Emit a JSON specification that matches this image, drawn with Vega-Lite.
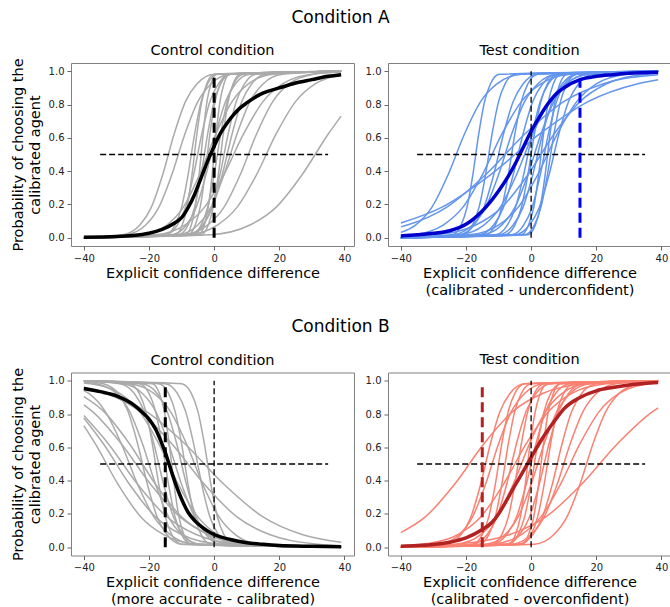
{
"$schema":"https://vega.github.io/schema/vega-lite/v6.json",
"autosize":{"type":"pad"},
"padding":{"left":9,"top":8,"right":0,"bottom":0},
"background":"white",
"config":{"font":"DejaVu Sans","view":{"stroke":"#808080","strokeWidth":1},
"axis":{"grid":false,"domain":false,"tickColor":"#666666","tickSize":4,"labelFontSize":10,"labelColor":"#222222","labelPadding":3,"titleFontSize":14.5,"titleFontWeight":400,"titleColor":"black","titleLineHeight":17,"labelFont":"DejaVu Sans","titleFont":"DejaVu Sans"},
"axisX":{"titlePadding":3,"titleFontWeight":400},"axisY":{"titlePadding":6,"titleFontWeight":400},
"title":{"fontSize":14.5,"fontWeight":400,"font":"DejaVu Sans","anchor":"middle","color":"black","offset":3,"frame":"group"},
"concat":{"spacing":9}},
"datasets":{
"a1":[
{"c":1,"x":-40,"y":0},{"c":1,"x":-28,"y":0.018},{"c":1,"x":-22.8,"y":0.076},{"c":1,"x":-19.3,"y":0.182},{"c":1,"x":-15.8,"y":0.378},{"c":1,"x":-12.3,"y":0.622},{"c":1,"x":-8.8,"y":0.818},{"c":1,"x":-5.3,"y":0.924},{"c":1,"x":0,"y":0.982},{"c":1,"x":39,"y":1},
{"c":2,"x":-40,"y":0},{"c":2,"x":-27,"y":0.018},{"c":2,"x":-21,"y":0.076},{"c":2,"x":-17,"y":0.182},{"c":2,"x":-13,"y":0.378},{"c":2,"x":-9,"y":0.622},{"c":2,"x":-5,"y":0.818},{"c":2,"x":-1,"y":0.924},{"c":2,"x":5,"y":0.982},{"c":2,"x":39,"y":1},
{"c":3,"x":-40,"y":0},{"c":3,"x":-15,"y":0.018},{"c":3,"x":-12,"y":0.076},{"c":3,"x":-10,"y":0.182},{"c":3,"x":-8,"y":0.378},{"c":3,"x":-6,"y":0.622},{"c":3,"x":-4,"y":0.818},{"c":3,"x":-2,"y":0.924},{"c":3,"x":1,"y":0.982},{"c":3,"x":39,"y":1},
{"c":4,"x":-40,"y":0},{"c":4,"x":-12,"y":0.018},{"c":4,"x":-9.8,"y":0.076},{"c":4,"x":-8.3,"y":0.182},{"c":4,"x":-6.8,"y":0.378},{"c":4,"x":-5.3,"y":0.622},{"c":4,"x":-3.8,"y":0.818},{"c":4,"x":-2.3,"y":0.924},{"c":4,"x":0,"y":0.982},{"c":4,"x":39,"y":1},
{"c":5,"x":-40,"y":0},{"c":5,"x":-15,"y":0.018},{"c":5,"x":-11.3,"y":0.076},{"c":5,"x":-8.8,"y":0.182},{"c":5,"x":-6.3,"y":0.378},{"c":5,"x":-3.8,"y":0.622},{"c":5,"x":-1.3,"y":0.818},{"c":5,"x":1.3,"y":0.924},{"c":5,"x":5,"y":0.982},{"c":5,"x":39,"y":1},
{"c":6,"x":-40,"y":0},{"c":6,"x":-8.8,"y":0.018},{"c":6,"x":-7,"y":0.076},{"c":6,"x":-5.8,"y":0.182},{"c":6,"x":-4.6,"y":0.378},{"c":6,"x":-3.4,"y":0.622},{"c":6,"x":-2.2,"y":0.818},{"c":6,"x":-1,"y":0.924},{"c":6,"x":0.8,"y":0.982},{"c":6,"x":39,"y":1},
{"c":7,"x":-40,"y":0},{"c":7,"x":-11,"y":0.018},{"c":7,"x":-8,"y":0.076},{"c":7,"x":-6,"y":0.182},{"c":7,"x":-4,"y":0.378},{"c":7,"x":-2,"y":0.622},{"c":7,"x":0,"y":0.818},{"c":7,"x":2,"y":0.924},{"c":7,"x":5,"y":0.982},{"c":7,"x":39,"y":1},
{"c":8,"x":-40,"y":0},{"c":8,"x":-8,"y":0.018},{"c":8,"x":-5.8,"y":0.076},{"c":8,"x":-4.3,"y":0.182},{"c":8,"x":-2.8,"y":0.378},{"c":8,"x":-1.3,"y":0.622},{"c":8,"x":0.3,"y":0.818},{"c":8,"x":1.8,"y":0.924},{"c":8,"x":4,"y":0.982},{"c":8,"x":39,"y":1},
{"c":9,"x":-40,"y":0},{"c":9,"x":-13,"y":0.018},{"c":9,"x":-8.5,"y":0.076},{"c":9,"x":-5.5,"y":0.182},{"c":9,"x":-2.5,"y":0.378},{"c":9,"x":0.5,"y":0.622},{"c":9,"x":3.5,"y":0.818},{"c":9,"x":6.5,"y":0.924},{"c":9,"x":11,"y":0.982},{"c":9,"x":39,"y":1},
{"c":10,"x":-40,"y":0},{"c":10,"x":-4.8,"y":0.018},{"c":10,"x":-3,"y":0.076},{"c":10,"x":-1.8,"y":0.182},{"c":10,"x":-0.6,"y":0.378},{"c":10,"x":0.6,"y":0.622},{"c":10,"x":1.8,"y":0.818},{"c":10,"x":3,"y":0.924},{"c":10,"x":4.8,"y":0.982},{"c":10,"x":39,"y":1},
{"c":11,"x":-40,"y":0},{"c":11,"x":-7,"y":0.018},{"c":11,"x":-4,"y":0.076},{"c":11,"x":-2,"y":0.182},{"c":11,"x":0,"y":0.378},{"c":11,"x":2,"y":0.622},{"c":11,"x":4,"y":0.818},{"c":11,"x":6,"y":0.924},{"c":11,"x":9,"y":0.982},{"c":11,"x":39,"y":1},
{"c":12,"x":-40,"y":0},{"c":12,"x":-4,"y":0.018},{"c":12,"x":-1.8,"y":0.076},{"c":12,"x":-0.3,"y":0.182},{"c":12,"x":1.3,"y":0.378},{"c":12,"x":2.8,"y":0.622},{"c":12,"x":4.3,"y":0.818},{"c":12,"x":5.8,"y":0.924},{"c":12,"x":8,"y":0.982},{"c":12,"x":39,"y":1},
{"c":13,"x":-40,"y":0},{"c":13,"x":-7,"y":0.018},{"c":13,"x":-3.3,"y":0.076},{"c":13,"x":-0.8,"y":0.182},{"c":13,"x":1.8,"y":0.378},{"c":13,"x":4.3,"y":0.622},{"c":13,"x":6.8,"y":0.818},{"c":13,"x":9.3,"y":0.924},{"c":13,"x":13,"y":0.982},{"c":13,"x":39,"y":1},
{"c":14,"x":-40,"y":0},{"c":14,"x":-8,"y":0.018},{"c":14,"x":-3.5,"y":0.076},{"c":14,"x":-0.5,"y":0.182},{"c":14,"x":2.5,"y":0.378},{"c":14,"x":5.5,"y":0.622},{"c":14,"x":8.5,"y":0.818},{"c":14,"x":11.5,"y":0.924},{"c":14,"x":16,"y":0.982},{"c":14,"x":39,"y":1},
{"c":15,"x":-40,"y":0},{"c":15,"x":-11,"y":0.018},{"c":15,"x":-5,"y":0.076},{"c":15,"x":-1,"y":0.182},{"c":15,"x":3,"y":0.378},{"c":15,"x":7,"y":0.622},{"c":15,"x":11,"y":0.818},{"c":15,"x":15,"y":0.924},{"c":15,"x":21,"y":0.982},{"c":15,"x":39,"y":1},
{"c":16,"x":-40,"y":0},{"c":16,"x":-9.5,"y":0.018},{"c":16,"x":-2,"y":0.076},{"c":16,"x":3,"y":0.182},{"c":16,"x":8,"y":0.378},{"c":16,"x":13,"y":0.622},{"c":16,"x":18,"y":0.818},{"c":16,"x":23,"y":0.924},{"c":16,"x":30.5,"y":0.982},{"c":16,"x":39,"y":0.997},
{"c":17,"x":-40,"y":0},{"c":17,"x":-8,"y":0.018},{"c":17,"x":1,"y":0.076},{"c":17,"x":7,"y":0.182},{"c":17,"x":13,"y":0.378},{"c":17,"x":19,"y":0.622},{"c":17,"x":25,"y":0.818},{"c":17,"x":31,"y":0.924},{"c":17,"x":39,"y":0.979},
{"c":18,"x":-40,"y":0},{"c":18,"x":-1,"y":0.018},{"c":18,"x":11,"y":0.076},{"c":18,"x":19,"y":0.182},{"c":18,"x":27,"y":0.378},{"c":18,"x":35,"y":0.622},{"c":18,"x":39,"y":0.731},
{"c":19,"x":-40,"y":0},{"c":19,"x":-22,"y":0.018},{"c":19,"x":-14.5,"y":0.076},{"c":19,"x":-9.5,"y":0.182},{"c":19,"x":-4.5,"y":0.378},{"c":19,"x":0.5,"y":0.622},{"c":19,"x":5.5,"y":0.818},{"c":19,"x":10.5,"y":0.924},{"c":19,"x":18,"y":0.982},{"c":19,"x":39,"y":1},
{"c":20,"x":-40,"y":0},{"c":20,"x":-18,"y":0.018},{"c":20,"x":-9,"y":0.076},{"c":20,"x":-3,"y":0.182},{"c":20,"x":3,"y":0.378},{"c":20,"x":9,"y":0.622},{"c":20,"x":15,"y":0.818},{"c":20,"x":21,"y":0.924},{"c":20,"x":30,"y":0.982},{"c":20,"x":39,"y":0.996}
],
"a1m":[{"x":-40,"y":0.003},{"x":-30,"y":0.007},{"x":-25,"y":0.013},{"x":-20,"y":0.027},{"x":-16,"y":0.05},{"x":-12,"y":0.09},{"x":-10,"y":0.12},{"x":-8,"y":0.18},{"x":-6,"y":0.26},{"x":-4,"y":0.36},{"x":-2,"y":0.46},{"x":0,"y":0.55},{"x":2,"y":0.63},{"x":4,"y":0.69},{"x":6,"y":0.74},{"x":8,"y":0.78},{"x":10,"y":0.81},{"x":14,"y":0.86},{"x":20,"y":0.9},{"x":25,"y":0.93},{"x":30,"y":0.95},{"x":35,"y":0.97},{"x":39,"y":0.98}],
"a2":[
{"c":1,"x":-40,"y":0.032},{"c":1,"x":-35.5,"y":0.076},{"c":1,"x":-30.5,"y":0.182},{"c":1,"x":-25.5,"y":0.378},{"c":1,"x":-20.5,"y":0.622},{"c":1,"x":-15.5,"y":0.818},{"c":1,"x":-10.5,"y":0.924},{"c":1,"x":-3,"y":0.982},{"c":1,"x":39,"y":1},
{"c":2,"x":-40,"y":0},{"c":2,"x":-24.2,"y":0.018},{"c":2,"x":-21.5,"y":0.076},{"c":2,"x":-19.7,"y":0.182},{"c":2,"x":-17.9,"y":0.378},{"c":2,"x":-16.1,"y":0.622},{"c":2,"x":-14.3,"y":0.818},{"c":2,"x":-12.5,"y":0.924},{"c":2,"x":-9.8,"y":0.982},{"c":2,"x":39,"y":1},
{"c":3,"x":-40,"y":0},{"c":3,"x":-21,"y":0.018},{"c":3,"x":-18,"y":0.076},{"c":3,"x":-16,"y":0.182},{"c":3,"x":-14,"y":0.378},{"c":3,"x":-12,"y":0.622},{"c":3,"x":-10,"y":0.818},{"c":3,"x":-8,"y":0.924},{"c":3,"x":-5,"y":0.982},{"c":3,"x":39,"y":1},
{"c":4,"x":-40,"y":0},{"c":4,"x":-22,"y":0.018},{"c":4,"x":-17.5,"y":0.076},{"c":4,"x":-14.5,"y":0.182},{"c":4,"x":-11.5,"y":0.378},{"c":4,"x":-8.5,"y":0.622},{"c":4,"x":-5.5,"y":0.818},{"c":4,"x":-2.5,"y":0.924},{"c":4,"x":2,"y":0.982},{"c":4,"x":39,"y":1},
{"c":5,"x":-40,"y":0.065},{"c":5,"x":-38,"y":0.076},{"c":5,"x":-26,"y":0.182},{"c":5,"x":-14,"y":0.378},{"c":5,"x":-2,"y":0.622},{"c":5,"x":10,"y":0.818},{"c":5,"x":22,"y":0.924},{"c":5,"x":39,"y":0.98},
{"c":6,"x":-40,"y":0.088},{"c":6,"x":-27.5,"y":0.182},{"c":6,"x":-12.5,"y":0.378},{"c":6,"x":2.5,"y":0.622},{"c":6,"x":17.5,"y":0.818},{"c":6,"x":32.5,"y":0.924},{"c":6,"x":39,"y":0.949},
{"c":7,"x":-40,"y":0},{"c":7,"x":-24,"y":0.018},{"c":7,"x":-18,"y":0.076},{"c":7,"x":-14,"y":0.182},{"c":7,"x":-10,"y":0.378},{"c":7,"x":-6,"y":0.622},{"c":7,"x":-2,"y":0.818},{"c":7,"x":2,"y":0.924},{"c":7,"x":8,"y":0.982},{"c":7,"x":39,"y":1},
{"c":8,"x":-40,"y":0},{"c":8,"x":-14,"y":0.018},{"c":8,"x":-11,"y":0.076},{"c":8,"x":-9,"y":0.182},{"c":8,"x":-7,"y":0.378},{"c":8,"x":-5,"y":0.622},{"c":8,"x":-3,"y":0.818},{"c":8,"x":-1,"y":0.924},{"c":8,"x":2,"y":0.982},{"c":8,"x":39,"y":1},
{"c":9,"x":-40,"y":0},{"c":9,"x":-16,"y":0.018},{"c":9,"x":-11.5,"y":0.076},{"c":9,"x":-8.5,"y":0.182},{"c":9,"x":-5.5,"y":0.378},{"c":9,"x":-2.5,"y":0.622},{"c":9,"x":0.5,"y":0.818},{"c":9,"x":3.5,"y":0.924},{"c":9,"x":8,"y":0.982},{"c":9,"x":39,"y":1},
{"c":10,"x":-40,"y":0.001},{"c":10,"x":-22,"y":0.018},{"c":10,"x":-14.5,"y":0.076},{"c":10,"x":-9.5,"y":0.182},{"c":10,"x":-4.5,"y":0.378},{"c":10,"x":0.5,"y":0.622},{"c":10,"x":5.5,"y":0.818},{"c":10,"x":10.5,"y":0.924},{"c":10,"x":18,"y":0.982},{"c":10,"x":39,"y":1},
{"c":11,"x":-40,"y":0},{"c":11,"x":-11,"y":0.018},{"c":11,"x":-7.3,"y":0.076},{"c":11,"x":-4.8,"y":0.182},{"c":11,"x":-2.3,"y":0.378},{"c":11,"x":0.3,"y":0.622},{"c":11,"x":2.8,"y":0.818},{"c":11,"x":5.3,"y":0.924},{"c":11,"x":9,"y":0.982},{"c":11,"x":39,"y":1},
{"c":12,"x":-40,"y":0},{"c":12,"x":-8,"y":0.018},{"c":12,"x":-5,"y":0.076},{"c":12,"x":-3,"y":0.182},{"c":12,"x":-1,"y":0.378},{"c":12,"x":1,"y":0.622},{"c":12,"x":3,"y":0.818},{"c":12,"x":5,"y":0.924},{"c":12,"x":8,"y":0.982},{"c":12,"x":39,"y":1},
{"c":13,"x":-40,"y":0},{"c":13,"x":-15,"y":0.018},{"c":13,"x":-9,"y":0.076},{"c":13,"x":-5,"y":0.182},{"c":13,"x":-1,"y":0.378},{"c":13,"x":3,"y":0.622},{"c":13,"x":7,"y":0.818},{"c":13,"x":11,"y":0.924},{"c":13,"x":17,"y":0.982},{"c":13,"x":39,"y":1},
{"c":14,"x":-40,"y":0},{"c":14,"x":-10,"y":0.018},{"c":14,"x":-5.5,"y":0.076},{"c":14,"x":-2.5,"y":0.182},{"c":14,"x":0.5,"y":0.378},{"c":14,"x":3.5,"y":0.622},{"c":14,"x":6.5,"y":0.818},{"c":14,"x":9.5,"y":0.924},{"c":14,"x":14,"y":0.982},{"c":14,"x":39,"y":1},
{"c":15,"x":-40,"y":0},{"c":15,"x":-3,"y":0.018},{"c":15,"x":-0.8,"y":0.076},{"c":15,"x":0.8,"y":0.182},{"c":15,"x":2.3,"y":0.378},{"c":15,"x":3.8,"y":0.622},{"c":15,"x":5.3,"y":0.818},{"c":15,"x":6.8,"y":0.924},{"c":15,"x":9,"y":0.982},{"c":15,"x":39,"y":1},
{"c":16,"x":-40,"y":0},{"c":16,"x":-6,"y":0.018},{"c":16,"x":-2.3,"y":0.076},{"c":16,"x":0.3,"y":0.182},{"c":16,"x":2.8,"y":0.378},{"c":16,"x":5.3,"y":0.622},{"c":16,"x":7.8,"y":0.818},{"c":16,"x":10.3,"y":0.924},{"c":16,"x":14,"y":0.982},{"c":16,"x":39,"y":1},
{"c":17,"x":-40,"y":0},{"c":17,"x":-1,"y":0.018},{"c":17,"x":1.3,"y":0.076},{"c":17,"x":2.8,"y":0.182},{"c":17,"x":4.3,"y":0.378},{"c":17,"x":5.8,"y":0.622},{"c":17,"x":7.3,"y":0.818},{"c":17,"x":8.8,"y":0.924},{"c":17,"x":11,"y":0.982},{"c":17,"x":39,"y":1},
{"c":18,"x":-40,"y":0.001},{"c":18,"x":-19,"y":0.018},{"c":18,"x":-10,"y":0.076},{"c":18,"x":-4,"y":0.182},{"c":18,"x":2,"y":0.378},{"c":18,"x":8,"y":0.622},{"c":18,"x":14,"y":0.818},{"c":18,"x":20,"y":0.924},{"c":18,"x":29,"y":0.982},{"c":18,"x":39,"y":0.997},
{"c":19,"x":-40,"y":0},{"c":19,"x":-2,"y":0.018},{"c":19,"x":1,"y":0.076},{"c":19,"x":3,"y":0.182},{"c":19,"x":5,"y":0.378},{"c":19,"x":7,"y":0.622},{"c":19,"x":9,"y":0.818},{"c":19,"x":11,"y":0.924},{"c":19,"x":14,"y":0.982},{"c":19,"x":39,"y":1},
{"c":20,"x":-40,"y":0},{"c":20,"x":-5,"y":0.018},{"c":20,"x":-0.5,"y":0.076},{"c":20,"x":2.5,"y":0.182},{"c":20,"x":5.5,"y":0.378},{"c":20,"x":8.5,"y":0.622},{"c":20,"x":11.5,"y":0.818},{"c":20,"x":14.5,"y":0.924},{"c":20,"x":19,"y":0.982},{"c":20,"x":39,"y":1},
{"c":21,"x":-40,"y":0.009},{"c":21,"x":-36,"y":0.018},{"c":21,"x":-27,"y":0.076},{"c":21,"x":-21,"y":0.182},{"c":21,"x":-15,"y":0.378},{"c":21,"x":-9,"y":0.622},{"c":21,"x":-3,"y":0.818},{"c":21,"x":3,"y":0.924},{"c":21,"x":12,"y":0.982},{"c":21,"x":39,"y":1},
{"c":22,"x":-40,"y":0.005},{"c":22,"x":-29,"y":0.018},{"c":22,"x":-17,"y":0.076},{"c":22,"x":-9,"y":0.182},{"c":22,"x":-1,"y":0.378},{"c":22,"x":7,"y":0.622},{"c":22,"x":15,"y":0.818},{"c":22,"x":23,"y":0.924},{"c":22,"x":35,"y":0.982},{"c":22,"x":39,"y":0.989}
],
"a2m":[{"x":-40,"y":0.01},{"x":-35,"y":0.017},{"x":-30,"y":0.026},{"x":-25,"y":0.042},{"x":-20,"y":0.08},{"x":-15,"y":0.16},{"x":-10,"y":0.28},{"x":-7,"y":0.37},{"x":-5,"y":0.44},{"x":-3,"y":0.52},{"x":0,"y":0.64},{"x":3,"y":0.74},{"x":5,"y":0.8},{"x":8,"y":0.87},{"x":10,"y":0.9},{"x":15,"y":0.95},{"x":20,"y":0.97},{"x":25,"y":0.98},{"x":30,"y":0.988},{"x":39,"y":0.995}],
"b1":[
{"c":1,"x":-40,"y":0.731},{"c":1,"x":-36.5,"y":0.622},{"c":1,"x":-29.5,"y":0.378},{"c":1,"x":-22.5,"y":0.182},{"c":1,"x":-15.5,"y":0.076},{"c":1,"x":-5,"y":0.018},{"c":1,"x":39,"y":0},
{"c":2,"x":-40,"y":0.777},{"c":2,"x":-34,"y":0.622},{"c":2,"x":-26,"y":0.378},{"c":2,"x":-18,"y":0.182},{"c":2,"x":-10,"y":0.076},{"c":2,"x":2,"y":0.018},{"c":2,"x":39,"y":0},
{"c":3,"x":-40,"y":0.791},{"c":3,"x":-32.5,"y":0.622},{"c":3,"x":-23.5,"y":0.378},{"c":3,"x":-14.5,"y":0.182},{"c":3,"x":-5.5,"y":0.076},{"c":3,"x":8,"y":0.018},{"c":3,"x":39,"y":0.001},
{"c":4,"x":-40,"y":0.856},{"c":4,"x":-37.5,"y":0.818},{"c":4,"x":-28.5,"y":0.622},{"c":4,"x":-19.5,"y":0.378},{"c":4,"x":-10.5,"y":0.182},{"c":4,"x":-1.5,"y":0.076},{"c":4,"x":12,"y":0.018},{"c":4,"x":39,"y":0.001},
{"c":5,"x":-40,"y":0.905},{"c":5,"x":-34,"y":0.818},{"c":5,"x":-26,"y":0.622},{"c":5,"x":-18,"y":0.378},{"c":5,"x":-10,"y":0.182},{"c":5,"x":-2,"y":0.076},{"c":5,"x":10,"y":0.018},{"c":5,"x":39,"y":0},
{"c":6,"x":-40,"y":0.956},{"c":6,"x":-33,"y":0.924},{"c":6,"x":-21,"y":0.818},{"c":6,"x":-9,"y":0.622},{"c":6,"x":3,"y":0.378},{"c":6,"x":15,"y":0.182},{"c":6,"x":27,"y":0.076},{"c":6,"x":39,"y":0.029},
{"c":7,"x":-40,"y":0.961},{"c":7,"x":-33,"y":0.924},{"c":7,"x":-23,"y":0.818},{"c":7,"x":-13,"y":0.622},{"c":7,"x":-3,"y":0.378},{"c":7,"x":7,"y":0.182},{"c":7,"x":17,"y":0.076},{"c":7,"x":32,"y":0.018},{"c":7,"x":39,"y":0.009},
{"c":8,"x":-40,"y":1},{"c":8,"x":-23,"y":0.982},{"c":8,"x":-20,"y":0.924},{"c":8,"x":-18,"y":0.818},{"c":8,"x":-16,"y":0.622},{"c":8,"x":-14,"y":0.378},{"c":8,"x":-12,"y":0.182},{"c":8,"x":-10,"y":0.076},{"c":8,"x":-7,"y":0.018},{"c":8,"x":39,"y":0},
{"c":9,"x":-40,"y":1},{"c":9,"x":-19,"y":0.982},{"c":9,"x":-16.8,"y":0.924},{"c":9,"x":-15.3,"y":0.818},{"c":9,"x":-13.8,"y":0.622},{"c":9,"x":-12.3,"y":0.378},{"c":9,"x":-10.8,"y":0.182},{"c":9,"x":-9.3,"y":0.076},{"c":9,"x":-7,"y":0.018},{"c":9,"x":39,"y":0},
{"c":10,"x":-40,"y":1},{"c":10,"x":-29,"y":0.982},{"c":10,"x":-24.5,"y":0.924},{"c":10,"x":-21.5,"y":0.818},{"c":10,"x":-18.5,"y":0.622},{"c":10,"x":-15.5,"y":0.378},{"c":10,"x":-12.5,"y":0.182},{"c":10,"x":-9.5,"y":0.076},{"c":10,"x":-5,"y":0.018},{"c":10,"x":39,"y":0},
{"c":11,"x":-40,"y":1},{"c":11,"x":-22,"y":0.982},{"c":11,"x":-17.5,"y":0.924},{"c":11,"x":-14.5,"y":0.818},{"c":11,"x":-11.5,"y":0.622},{"c":11,"x":-8.5,"y":0.378},{"c":11,"x":-5.5,"y":0.182},{"c":11,"x":-2.5,"y":0.076},{"c":11,"x":2,"y":0.018},{"c":11,"x":39,"y":0},
{"c":12,"x":-40,"y":1},{"c":12,"x":-10,"y":0.982},{"c":12,"x":-7,"y":0.924},{"c":12,"x":-5,"y":0.818},{"c":12,"x":-3,"y":0.622},{"c":12,"x":-1,"y":0.378},{"c":12,"x":1,"y":0.182},{"c":12,"x":3,"y":0.076},{"c":12,"x":6,"y":0.018},{"c":12,"x":39,"y":0},
{"c":13,"x":-40,"y":1},{"c":13,"x":-15,"y":0.982},{"c":13,"x":-11.3,"y":0.924},{"c":13,"x":-8.8,"y":0.818},{"c":13,"x":-6.3,"y":0.622},{"c":13,"x":-3.8,"y":0.378},{"c":13,"x":-1.3,"y":0.182},{"c":13,"x":1.3,"y":0.076},{"c":13,"x":5,"y":0.018},{"c":13,"x":39,"y":0},
{"c":14,"x":-40,"y":0.993},{"c":14,"x":-36,"y":0.982},{"c":14,"x":-30,"y":0.924},{"c":14,"x":-26,"y":0.818},{"c":14,"x":-22,"y":0.622},{"c":14,"x":-18,"y":0.378},{"c":14,"x":-14,"y":0.182},{"c":14,"x":-10,"y":0.076},{"c":14,"x":-4,"y":0.018},{"c":14,"x":39,"y":0},
{"c":15,"x":-40,"y":0.998},{"c":15,"x":-34,"y":0.982},{"c":15,"x":-29.5,"y":0.924},{"c":15,"x":-26.5,"y":0.818},{"c":15,"x":-23.5,"y":0.622},{"c":15,"x":-20.5,"y":0.378},{"c":15,"x":-17.5,"y":0.182},{"c":15,"x":-14.5,"y":0.076},{"c":15,"x":-10,"y":0.018},{"c":15,"x":39,"y":0},
{"c":16,"x":-40,"y":0.999},{"c":16,"x":-26,"y":0.982},{"c":16,"x":-18.5,"y":0.924},{"c":16,"x":-13.5,"y":0.818},{"c":16,"x":-8.5,"y":0.622},{"c":16,"x":-3.5,"y":0.378},{"c":16,"x":1.5,"y":0.182},{"c":16,"x":6.5,"y":0.076},{"c":16,"x":14,"y":0.018},{"c":16,"x":39,"y":0},
{"c":17,"x":-40,"y":1},{"c":17,"x":-28,"y":0.982},{"c":17,"x":-22,"y":0.924},{"c":17,"x":-18,"y":0.818},{"c":17,"x":-14,"y":0.622},{"c":17,"x":-10,"y":0.378},{"c":17,"x":-6,"y":0.182},{"c":17,"x":-2,"y":0.076},{"c":17,"x":4,"y":0.018},{"c":17,"x":39,"y":0},
{"c":18,"x":-40,"y":1},{"c":18,"x":-26,"y":0.982},{"c":18,"x":-23,"y":0.924},{"c":18,"x":-21,"y":0.818},{"c":18,"x":-19,"y":0.622},{"c":18,"x":-17,"y":0.378},{"c":18,"x":-15,"y":0.182},{"c":18,"x":-13,"y":0.076},{"c":18,"x":-10,"y":0.018},{"c":18,"x":39,"y":0},
{"c":19,"x":-40,"y":0.987},{"c":19,"x":-38,"y":0.982},{"c":19,"x":-29,"y":0.924},{"c":19,"x":-23,"y":0.818},{"c":19,"x":-17,"y":0.622},{"c":19,"x":-11,"y":0.378},{"c":19,"x":-5,"y":0.182},{"c":19,"x":1,"y":0.076},{"c":19,"x":10,"y":0.018},{"c":19,"x":39,"y":0},
{"c":20,"x":-40,"y":1},{"c":20,"x":-17,"y":0.982},{"c":20,"x":-14,"y":0.924},{"c":20,"x":-12,"y":0.818},{"c":20,"x":-10,"y":0.622},{"c":20,"x":-8,"y":0.378},{"c":20,"x":-6,"y":0.182},{"c":20,"x":-4,"y":0.076},{"c":20,"x":-1,"y":0.018},{"c":20,"x":39,"y":0},
{"c":21,"x":-40,"y":0.943},{"c":21,"x":-38.5,"y":0.924},{"c":21,"x":-33.5,"y":0.818},{"c":21,"x":-28.5,"y":0.622},{"c":21,"x":-23.5,"y":0.378},{"c":21,"x":-18.5,"y":0.182},{"c":21,"x":-13.5,"y":0.076},{"c":21,"x":-6,"y":0.018},{"c":21,"x":39,"y":0}
],
"b1m":[{"x":-40,"y":0.954},{"x":-35,"y":0.935},{"x":-30,"y":0.91},{"x":-25,"y":0.86},{"x":-22,"y":0.81},{"x":-20,"y":0.77},{"x":-18,"y":0.71},{"x":-16,"y":0.62},{"x":-15,"y":0.57},{"x":-14,"y":0.51},{"x":-12,"y":0.39},{"x":-10,"y":0.29},{"x":-8,"y":0.21},{"x":-6,"y":0.16},{"x":-4,"y":0.125},{"x":-2,"y":0.097},{"x":0,"y":0.076},{"x":5,"y":0.046},{"x":10,"y":0.027},{"x":15,"y":0.017},{"x":20,"y":0.01},{"x":30,"y":0.005},{"x":39,"y":0.002}],
"b2":[
{"c":1,"x":-40,"y":0.088},{"c":1,"x":-32.5,"y":0.182},{"c":1,"x":-23.5,"y":0.378},{"c":1,"x":-14.5,"y":0.622},{"c":1,"x":-5.5,"y":0.818},{"c":1,"x":3.5,"y":0.924},{"c":1,"x":17,"y":0.982},{"c":1,"x":39,"y":0.998},
{"c":2,"x":-40,"y":0},{"c":2,"x":-26,"y":0.018},{"c":2,"x":-21.5,"y":0.076},{"c":2,"x":-18.5,"y":0.182},{"c":2,"x":-15.5,"y":0.378},{"c":2,"x":-12.5,"y":0.622},{"c":2,"x":-9.5,"y":0.818},{"c":2,"x":-6.5,"y":0.924},{"c":2,"x":-2,"y":0.982},{"c":2,"x":39,"y":1},
{"c":3,"x":-40,"y":0},{"c":3,"x":-28,"y":0.018},{"c":3,"x":-22,"y":0.076},{"c":3,"x":-18,"y":0.182},{"c":3,"x":-14,"y":0.378},{"c":3,"x":-10,"y":0.622},{"c":3,"x":-6,"y":0.818},{"c":3,"x":-2,"y":0.924},{"c":3,"x":4,"y":0.982},{"c":3,"x":39,"y":1},
{"c":4,"x":-40,"y":0},{"c":4,"x":-18,"y":0.018},{"c":4,"x":-15,"y":0.076},{"c":4,"x":-13,"y":0.182},{"c":4,"x":-11,"y":0.378},{"c":4,"x":-9,"y":0.622},{"c":4,"x":-7,"y":0.818},{"c":4,"x":-5,"y":0.924},{"c":4,"x":-2,"y":0.982},{"c":4,"x":39,"y":1},
{"c":5,"x":-40,"y":0},{"c":5,"x":-16,"y":0.018},{"c":5,"x":-13,"y":0.076},{"c":5,"x":-11,"y":0.182},{"c":5,"x":-9,"y":0.378},{"c":5,"x":-7,"y":0.622},{"c":5,"x":-5,"y":0.818},{"c":5,"x":-3,"y":0.924},{"c":5,"x":0,"y":0.982},{"c":5,"x":39,"y":1},
{"c":6,"x":-40,"y":0},{"c":6,"x":-18,"y":0.018},{"c":6,"x":-13.5,"y":0.076},{"c":6,"x":-10.5,"y":0.182},{"c":6,"x":-7.5,"y":0.378},{"c":6,"x":-4.5,"y":0.622},{"c":6,"x":-1.5,"y":0.818},{"c":6,"x":1.5,"y":0.924},{"c":6,"x":6,"y":0.982},{"c":6,"x":39,"y":1},
{"c":7,"x":-40,"y":0},{"c":7,"x":-12,"y":0.018},{"c":7,"x":-9,"y":0.076},{"c":7,"x":-7,"y":0.182},{"c":7,"x":-5,"y":0.378},{"c":7,"x":-3,"y":0.622},{"c":7,"x":-1,"y":0.818},{"c":7,"x":1,"y":0.924},{"c":7,"x":4,"y":0.982},{"c":7,"x":39,"y":1},
{"c":8,"x":-40,"y":0.001},{"c":8,"x":-23,"y":0.018},{"c":8,"x":-15.5,"y":0.076},{"c":8,"x":-10.5,"y":0.182},{"c":8,"x":-5.5,"y":0.378},{"c":8,"x":-0.5,"y":0.622},{"c":8,"x":4.5,"y":0.818},{"c":8,"x":9.5,"y":0.924},{"c":8,"x":17,"y":0.982},{"c":8,"x":39,"y":1},
{"c":9,"x":-40,"y":0},{"c":9,"x":-7,"y":0.018},{"c":9,"x":-4.8,"y":0.076},{"c":9,"x":-3.3,"y":0.182},{"c":9,"x":-1.8,"y":0.378},{"c":9,"x":-0.3,"y":0.622},{"c":9,"x":1.3,"y":0.818},{"c":9,"x":2.8,"y":0.924},{"c":9,"x":5,"y":0.982},{"c":9,"x":39,"y":1},
{"c":10,"x":-40,"y":0},{"c":10,"x":-12,"y":0.018},{"c":10,"x":-7.5,"y":0.076},{"c":10,"x":-4.5,"y":0.182},{"c":10,"x":-1.5,"y":0.378},{"c":10,"x":1.5,"y":0.622},{"c":10,"x":4.5,"y":0.818},{"c":10,"x":7.5,"y":0.924},{"c":10,"x":12,"y":0.982},{"c":10,"x":39,"y":1},
{"c":11,"x":-40,"y":0},{"c":11,"x":-7,"y":0.018},{"c":11,"x":-4,"y":0.076},{"c":11,"x":-2,"y":0.182},{"c":11,"x":0,"y":0.378},{"c":11,"x":2,"y":0.622},{"c":11,"x":4,"y":0.818},{"c":11,"x":6,"y":0.924},{"c":11,"x":9,"y":0.982},{"c":11,"x":39,"y":1},
{"c":12,"x":-40,"y":0},{"c":12,"x":-14,"y":0.018},{"c":12,"x":-8,"y":0.076},{"c":12,"x":-4,"y":0.182},{"c":12,"x":0,"y":0.378},{"c":12,"x":4,"y":0.622},{"c":12,"x":8,"y":0.818},{"c":12,"x":12,"y":0.924},{"c":12,"x":18,"y":0.982},{"c":12,"x":39,"y":1},
{"c":13,"x":-40,"y":0},{"c":13,"x":-3,"y":0.018},{"c":13,"x":-0.8,"y":0.076},{"c":13,"x":0.8,"y":0.182},{"c":13,"x":2.3,"y":0.378},{"c":13,"x":3.8,"y":0.622},{"c":13,"x":5.3,"y":0.818},{"c":13,"x":6.8,"y":0.924},{"c":13,"x":9,"y":0.982},{"c":13,"x":39,"y":1},
{"c":14,"x":-40,"y":0},{"c":14,"x":-8,"y":0.018},{"c":14,"x":-3.5,"y":0.076},{"c":14,"x":-0.5,"y":0.182},{"c":14,"x":2.5,"y":0.378},{"c":14,"x":5.5,"y":0.622},{"c":14,"x":8.5,"y":0.818},{"c":14,"x":11.5,"y":0.924},{"c":14,"x":16,"y":0.982},{"c":14,"x":39,"y":1},
{"c":15,"x":-40,"y":0},{"c":15,"x":-3,"y":0.018},{"c":15,"x":0,"y":0.076},{"c":15,"x":2,"y":0.182},{"c":15,"x":4,"y":0.378},{"c":15,"x":6,"y":0.622},{"c":15,"x":8,"y":0.818},{"c":15,"x":10,"y":0.924},{"c":15,"x":13,"y":0.982},{"c":15,"x":39,"y":1},
{"c":16,"x":-40,"y":0},{"c":16,"x":-4,"y":0.018},{"c":16,"x":0.5,"y":0.076},{"c":16,"x":3.5,"y":0.182},{"c":16,"x":6.5,"y":0.378},{"c":16,"x":9.5,"y":0.622},{"c":16,"x":12.5,"y":0.818},{"c":16,"x":15.5,"y":0.924},{"c":16,"x":20,"y":0.982},{"c":16,"x":39,"y":1},
{"c":17,"x":-40,"y":0},{"c":17,"x":-6,"y":0.018},{"c":17,"x":0,"y":0.076},{"c":17,"x":4,"y":0.182},{"c":17,"x":8,"y":0.378},{"c":17,"x":12,"y":0.622},{"c":17,"x":16,"y":0.818},{"c":17,"x":20,"y":0.924},{"c":17,"x":26,"y":0.982},{"c":17,"x":39,"y":1},
{"c":18,"x":-40,"y":0.004},{"c":18,"x":-23,"y":0.018},{"c":18,"x":-6.5,"y":0.076},{"c":18,"x":4.5,"y":0.182},{"c":18,"x":15.5,"y":0.378},{"c":18,"x":26.5,"y":0.622},{"c":18,"x":37.5,"y":0.818},{"c":18,"x":39,"y":0.838},
{"c":19,"x":-40,"y":0},{"c":19,"x":1,"y":0.018},{"c":19,"x":7,"y":0.076},{"c":19,"x":11,"y":0.182},{"c":19,"x":15,"y":0.378},{"c":19,"x":19,"y":0.622},{"c":19,"x":23,"y":0.818},{"c":19,"x":27,"y":0.924},{"c":19,"x":33,"y":0.982},{"c":19,"x":39,"y":0.996},
{"c":20,"x":-40,"y":0},{"c":20,"x":-12,"y":0.018},{"c":20,"x":-3,"y":0.076},{"c":20,"x":3,"y":0.182},{"c":20,"x":9,"y":0.378},{"c":20,"x":15,"y":0.622},{"c":20,"x":21,"y":0.818},{"c":20,"x":27,"y":0.924},{"c":20,"x":36,"y":0.982},{"c":20,"x":39,"y":0.989},
{"c":21,"x":-40,"y":0.007},{"c":21,"x":-33,"y":0.018},{"c":21,"x":-22.5,"y":0.076},{"c":21,"x":-15.5,"y":0.182},{"c":21,"x":-8.5,"y":0.378},{"c":21,"x":-1.5,"y":0.622},{"c":21,"x":5.5,"y":0.818},{"c":21,"x":12.5,"y":0.924},{"c":21,"x":23,"y":0.982},{"c":21,"x":39,"y":0.998}
],
"b2m":[{"x":-40,"y":0.006},{"x":-35,"y":0.01},{"x":-30,"y":0.016},{"x":-25,"y":0.03},{"x":-20,"y":0.056},{"x":-15,"y":0.106},{"x":-12,"y":0.15},{"x":-10,"y":0.2},{"x":-7,"y":0.3},{"x":-5,"y":0.37},{"x":-2,"y":0.47},{"x":0,"y":0.54},{"x":3,"y":0.64},{"x":5,"y":0.7},{"x":8,"y":0.78},{"x":10,"y":0.83},{"x":15,"y":0.9},{"x":20,"y":0.94},{"x":25,"y":0.96},{"x":30,"y":0.975},{"x":39,"y":0.99}]
},
"vconcat":[
{"title":{"text":"Condition A","fontSize":17,"offset":15.5,"anchor":"middle","frame":"bounds"},
"hconcat":[
{"width":283,"height":183,"title":{"text":"Control condition","frame":"group","offset":-1},
"encoding":{"x":{"field":"x","type":"quantitative","scale":{"domain":[-43.95,42.95],"nice":false,"zero":false},"axis":{"values":[-40,-20,0,20,40],"title":"Explicit confidence difference","titleFontWeight":400}},
"y":{"field":"y","type":"quantitative","scale":{"domain":[-0.05,1.05],"nice":false,"zero":false},"axis":{"values":[0,0.2,0.4,0.6,0.8,1],"format":".1f","title":["Probability of choosing the","calibrated agent"],"titleFontWeight":400}}},
"layer":[
{"data":{"name":"a1"},"mark":{"type":"line","interpolate":"monotone","color":"#aaaaaa","strokeWidth":1.5},"encoding":{"detail":{"field":"c","type":"nominal"}}},
{"data":{"name":"a1m"},"mark":{"type":"line","interpolate":"monotone","color":"black","strokeWidth":3.5},"encoding":{}},
{"data":{"values":[{"x":-35,"x2":35,"y":0.5}]},"mark":{"type":"rule","color":"black","strokeWidth":1.3,"strokeDash":[6,3]},"encoding":{"x2":{"field":"x2"}}},
{"data":{"values":[{"x":0,"y":0,"y2":0.97}]},"mark":{"type":"rule","color":"black","strokeWidth":3,"strokeDash":[10,5]},"encoding":{"y2":{"field":"y2"}}}
]},
{"width":283,"height":183,"title":{"text":"Test condition","frame":"group","offset":5},
"encoding":{"x":{"field":"x","type":"quantitative","scale":{"domain":[-43.95,42.95],"nice":false,"zero":false},"axis":{"values":[-40,-20,0,20,40],"title":["Explicit confidence difference","(calibrated - underconfident)"],"titleFontWeight":400}},
"y":{"field":"y","type":"quantitative","scale":{"domain":[-0.05,1.05],"nice":false,"zero":false},"axis":{"values":[0,0.2,0.4,0.6,0.8,1],"format":".1f","title":null}}},
"layer":[
{"data":{"name":"a2"},"mark":{"type":"line","interpolate":"monotone","color":"#6495ED","strokeWidth":1.5},"encoding":{"detail":{"field":"c","type":"nominal"}}},
{"data":{"name":"a2m"},"mark":{"type":"line","interpolate":"monotone","color":"#0000CD","strokeWidth":3.5},"encoding":{}},
{"data":{"values":[{"x":-35,"x2":35,"y":0.5}]},"mark":{"type":"rule","color":"black","strokeWidth":1.3,"strokeDash":[6,3]},"encoding":{"x2":{"field":"x2"}}},
{"data":{"values":[{"x":0,"y":0,"y2":1}]},"mark":{"type":"rule","color":"black","strokeWidth":1.3,"strokeDash":[6,3]},"encoding":{"y2":{"field":"y2"}}},
{"data":{"values":[{"x":15,"y":0,"y2":0.95}]},"mark":{"type":"rule","color":"#0000FF","strokeWidth":3,"strokeDash":[10,5]},"encoding":{"y2":{"field":"y2"}}}
]}
]},
{"title":{"text":"Condition B","fontSize":17,"offset":15.5,"anchor":"middle","frame":"bounds"},
"hconcat":[
{"width":283,"height":183,"title":{"text":"Control condition","frame":"group","offset":-1},
"encoding":{"x":{"field":"x","type":"quantitative","scale":{"domain":[-43.95,42.95],"nice":false,"zero":false},"axis":{"values":[-40,-20,0,20,40],"title":["Explicit confidence difference","(more accurate - calibrated)"],"titleFontWeight":400}},
"y":{"field":"y","type":"quantitative","scale":{"domain":[-0.05,1.05],"nice":false,"zero":false},"axis":{"values":[0,0.2,0.4,0.6,0.8,1],"format":".1f","title":["Probability of choosing the","calibrated agent"],"titleFontWeight":400}}},
"layer":[
{"data":{"name":"b1"},"mark":{"type":"line","interpolate":"monotone","color":"#aaaaaa","strokeWidth":1.5},"encoding":{"detail":{"field":"c","type":"nominal"}}},
{"data":{"name":"b1m"},"mark":{"type":"line","interpolate":"monotone","color":"black","strokeWidth":3.5},"encoding":{}},
{"data":{"values":[{"x":-35,"x2":35,"y":0.5}]},"mark":{"type":"rule","color":"black","strokeWidth":1.3,"strokeDash":[6,3]},"encoding":{"x2":{"field":"x2"}}},
{"data":{"values":[{"x":0,"y":0,"y2":1}]},"mark":{"type":"rule","color":"black","strokeWidth":1.3,"strokeDash":[6,3]},"encoding":{"y2":{"field":"y2"}}},
{"data":{"values":[{"x":-15,"y":0,"y2":0.98}]},"mark":{"type":"rule","color":"black","strokeWidth":3,"strokeDash":[10,5]},"encoding":{"y2":{"field":"y2"}}}
]},
{"width":283,"height":183,"title":{"text":"Test condition","frame":"group","offset":5},
"encoding":{"x":{"field":"x","type":"quantitative","scale":{"domain":[-43.95,42.95],"nice":false,"zero":false},"axis":{"values":[-40,-20,0,20,40],"title":["Explicit confidence difference","(calibrated - overconfident)"],"titleFontWeight":400}},
"y":{"field":"y","type":"quantitative","scale":{"domain":[-0.05,1.05],"nice":false,"zero":false},"axis":{"values":[0,0.2,0.4,0.6,0.8,1],"format":".1f","title":null}}},
"layer":[
{"data":{"name":"b2"},"mark":{"type":"line","interpolate":"monotone","color":"#FA8072","strokeWidth":1.5},"encoding":{"detail":{"field":"c","type":"nominal"}}},
{"data":{"name":"b2m"},"mark":{"type":"line","interpolate":"monotone","color":"#B22222","strokeWidth":3.5},"encoding":{}},
{"data":{"values":[{"x":-35,"x2":35,"y":0.5}]},"mark":{"type":"rule","color":"black","strokeWidth":1.3,"strokeDash":[6,3]},"encoding":{"x2":{"field":"x2"}}},
{"data":{"values":[{"x":0,"y":0,"y2":1}]},"mark":{"type":"rule","color":"black","strokeWidth":1.3,"strokeDash":[6,3]},"encoding":{"y2":{"field":"y2"}}},
{"data":{"values":[{"x":-15,"y":0,"y2":0.98}]},"mark":{"type":"rule","color":"#B22222","strokeWidth":3,"strokeDash":[10,5]},"encoding":{"y2":{"field":"y2"}}}
]}
]}
],
"spacing":20.5
}
